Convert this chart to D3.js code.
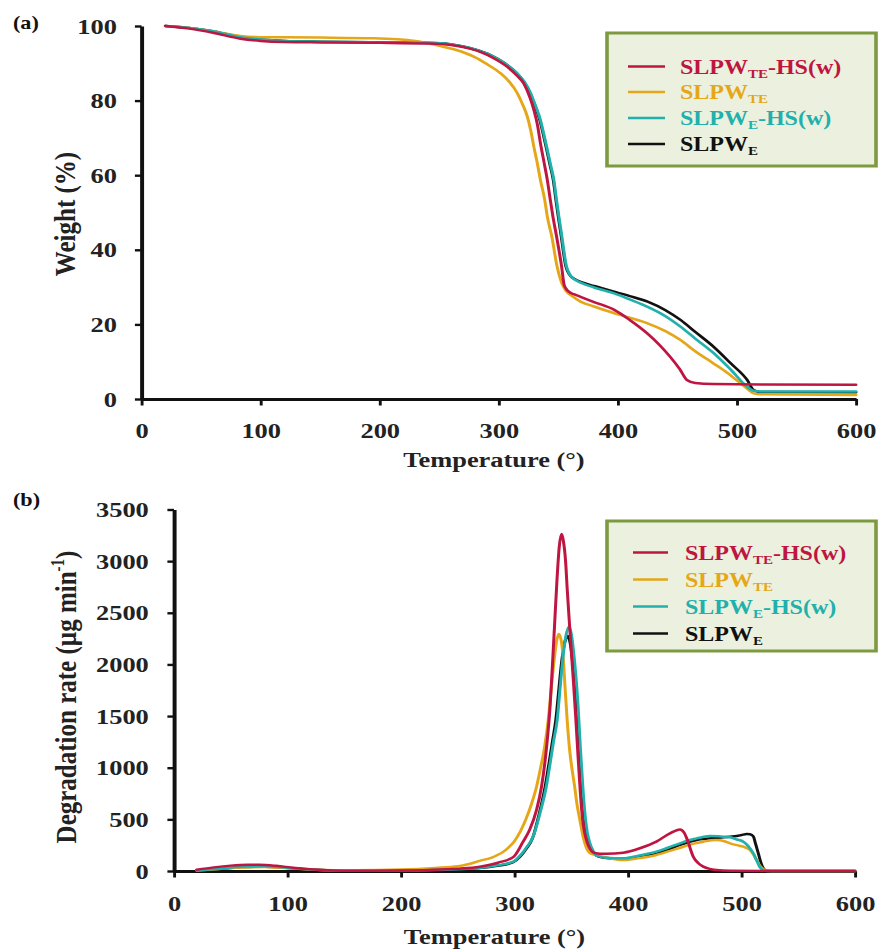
<!DOCTYPE html>
<html>
<head>
<meta charset="utf-8">
<script src="https://cdn.jsdelivr.net/npm/d3@7/dist/d3.min.js"></script>
<style>
  html, body { margin: 0; padding: 0; background: #ffffff; }
  svg { display: block; }
</style>
</head>
<body>
<svg id="fig" width="881" height="951"></svg>
<script>
// ---------- series definitions ----------
const seriesColors = ["#bf1541", "#e5a718", "#21b0ac", "#111111"];
const legendMain = ["SLPW", "SLPW", "SLPW", "SLPW"];
const legendSub  = ["TE", "TE", "E", "E"];
const legendTail = ["-HS(w)", "", "-HS(w)", ""];
const drawOrder  = [3, 1, 2, 0];

// ---------- tick values ----------
const tempTicks   = [0, 100, 200, 300, 400, 500, 600];
const weightTicks = [0, 20, 40, 60, 80, 100];
const rateTicks   = [0, 500, 1000, 1500, 2000, 2500, 3000, 3500];

// ---------- (a) TGA weight (%) vs temperature ----------
const tgaTEHS = [[20,100],[40,99.3],[60,98.2],[83,96.6],[100,96.0],[120,95.7],[150,95.6],[200,95.5],[240,95.3],
  [260,94.9],[275,94.0],[285,93.0],[295,91.5],[307,89.1],[315,86.8],[321,84.6],[326,81.0],[329.5,77.5],[332.5,73.5],
  [335,68.6],[338,63.5],[340.8,58.7],[343.3,53.4],[345.5,48.9],[348.6,43.5],[352.8,35.5],[355,30.5],[358,29.0],
  [363,28.1],[368.7,27.4],[380,26.0],[397,23.9],[410,21.2],[424.7,17.6],[435,14.5],[444,11.3],[452,8.0],[458,5.1],
  [465,4.3],[480,4.0],[520,3.9],[600,3.8]];
const tgaTE = [[20,100],[40,99.5],[60,98.6],[83,97.3],[100,97.0],[150,96.9],[195,96.7],[230,96.0],[251,94.6],
  [265,93.5],[279,91.8],[290,89.8],[301.6,87.3],[309,85.0],[315.6,82.0],[320,79.0],[324,75.7],[327,71.8],[329.5,67.6],
  [332.5,63.0],[335,58.7],[338.6,53.4],[340.8,48.9],[344.6,43.5],[349,35.5],[353,31.0],[356,29.2],[362,27.5],
  [368.7,26.1],[380,24.8],[397,23.0],[410,21.8],[425,20.3],[440,18.2],[452.6,15.8],[465,12.8],[480,9.6],[492,7.0],
  [503,4.2],[510,2.4],[514,1.5],[520,1.25],[600,1.1]];
const tgaEHS = [[20,100],[40,99.5],[60,98.6],[83,97.0],[100,96.4],[120,96.0],[150,95.8],[200,95.6],[251,95.4],
  [270,94.5],[280,93.7],[293,92.2],[305,90.0],[315.6,87.3],[322,84.8],[326.8,82.0],[331,78.5],[335,74.8],[338,70.8],
  [340.8,66.8],[343.5,62.8],[346.3,58.7],[348.5,53.4],[350.5,48.9],[352.8,44.0],[356.9,35.5],[360,33.2],[364.5,31.9],
  [368.7,31.2],[380,29.9],[397,28.3],[410,26.7],[425,24.7],[440,22.2],[452.6,19.4],[465,16.2],[480.5,12.3],[495,7.8],
  [508.6,3.3],[514,2.2],[520,2.0],[600,2.0]];
const tgaE = [[20,100],[40,99.5],[60,98.6],[83,97.0],[100,96.4],[120,96.0],[150,95.8],[200,95.6],[251,95.4],
  [270,94.5],[280,93.7],[293,92.2],[305,90.0],[315,87.3],[321.5,84.8],[326.3,82.0],[330.5,78.5],[334.5,74.8],[337.5,70.8],
  [340.3,66.8],[343,62.8],[345.8,58.7],[348,53.4],[350,48.9],[352.3,44.0],[356.4,35.5],[359.5,33.3],[364,32.1],
  [368.7,31.4],[380,30.3],[397,28.8],[410,27.6],[425,26.1],[440,23.8],[452.6,21.2],[465,18.0],[480.5,14.0],[495,9.5],
  [508.6,5.1],[514,2.4],[519,1.9],[600,1.8]];

// ---------- (b) DTG degradation rate (µg/min) vs temperature ----------
const dtgTEHS = [[20,12],[35,35],[50,52],[65,60],[75,60],[90,50],[105,32],[120,17],[135,8],[150,3],[175,2],[200,4],
  [225,10],[250,22],[269.4,42],[285.4,80],[299.4,140],[307.4,280],[313.4,400],[319.4,590],[323.8,816],[328.4,1213],
  [331.4,1600],[333.4,1990],[335.4,2400],[337.4,2812],[339.4,3136],[341.4,3262],[343,3200],[345,3000],[346.5,2720],
  [348.2,2430],[350,2140],[352,1820],[354,1480],[356,1110],[358,760],[360,500],[362,360],[364,280],[366.5,215],
  [369.3,180],[375,168],[381,166],[395.8,177],[410.5,220],[425,284],[437,365],[445.8,403],[449.5,370],
  [452,310],[457.5,139],[462,75],[466.3,42],[472,20],[478,10],[490,3],[520,1],[600,0]];
const dtgTE = [[20,5],[40,20],[60,35],[80,38],[100,28],[120,14],[140,8],[160,8],[200,15],[230,30],[250,45],[260,68],
  [270,100],[280,130],[285,155],[290,185],[295,230],[300,290],[305,380],[310,500],[315,650],[319.4,816],[323,1000],
  [326.5,1200],[329.7,1462],[332.5,1780],[335,2050],[337,2220],[339,2294],[341,2240],[343,2050],[344.7,1750],
  [346.4,1462],[348.5,1180],[350.5,1000],[353,816],[355,650],[357.6,494],[360.5,330],[363.5,223],[368,165],[372,155],
  [381,130],[396,106],[410,125],[425,155],[437,195],[448.7,235],[458,265],[466.3,284],[478,300],[485,288],[490,268],
  [496,250],[501.6,235],[507.5,203],[510.5,160],[513.4,106],[516,55],[519,20],[523,3],[530,0],[600,0]];
const dtgEHS = [[20,5],[40,22],[60,42],[80,45],[100,32],[120,15],[140,6],[160,3],[200,4],[230,10],[250,18],[269,29],
  [285,55],[298.8,90],[305,150],[310,220],[316.4,332],[322,540],[328,816],[331.5,1050],[334.5,1260],[337.6,1462],
  [340,1750],[342.5,2050],[345,2260],[348,2365],[350,2300],[352,2130],[354,1900],[356,1600],[358,1200],[360,850],
  [362,560],[364,380],[366.4,271],[369,200],[372,150],[381,128],[396,123],[410,150],[425,187],[435,225],
  [445.8,268],[453,295],[460.5,316],[466,330],[472,339],[480,336],[490,326],[496,305],[501.6,284],[506,240],[510.4,171],
  [513,110],[516.3,36],[520,5],[525,0],[600,0]];
const dtgE = [[20,5],[40,18],[60,38],[80,42],[100,30],[120,14],[140,6],[160,3],[200,4],[230,10],[250,18],[269,28],
  [285,50],[298.8,85],[305,140],[310,210],[316,320],[321,520],[327,816],[330.5,1050],[333.5,1260],[336.4,1462],
  [339,1750],[341.5,2020],[344,2200],[347,2275],[349,2210],[351,2050],[353,1830],[355,1540],[357,1150],[359,820],
  [361,560],[363,380],[365.5,271],[368,200],[372,150],[381,125],[396,115],[410,138],[425,165],[435,205],
  [445.8,252],[455,285],[463.4,307],[474,318],[484,326],[490,332],[495.8,339],[500,348],[504.6,358],[507.5,355],
  [510.4,335],[512.5,260],[514.8,171],[517,85],[519,30],[522,3],[528,0],[600,0]];

const tgaSeries = [tgaTEHS, tgaTE, tgaEHS, tgaE];
const dtgSeries = [dtgTEHS, dtgTE, dtgEHS, dtgE];

// ---------- layout ----------
const SX = 1.2;                       // figure is drawn narrow, then widened horizontally
const FONT = "'Liberation Serif','Times New Roman',serif";

const svg = d3.select("#fig");
svg.append("rect").attr("width", 881).attr("height", 951).attr("fill", "#ffffff");
const fig = svg.append("g").attr("transform", `scale(${SX},1)`);

function styleAxis(g, lineW) {
  g.select(".domain").attr("stroke", "#111").attr("stroke-width", lineW);
  g.selectAll(".tick line").attr("stroke", "#111").attr("stroke-width", 2.4);
  g.selectAll(".tick text")
    .attr("font-family", FONT).attr("font-weight", "bold")
    .attr("font-size", 22).attr("fill", "#222");
}

function panel(opts) {
  const { x, y, data, yTicks, xAxisY, yAxisX } = opts;
  const p = fig.append("g");

  // axes
  const gx = p.append("g").attr("transform", `translate(0,${xAxisY})`)
    .call(d3.axisBottom(x).tickValues(tempTicks).tickSize(6.5).tickSizeOuter(0)
      .tickPadding(opts.xPad).tickFormat(d3.format("d")));
  styleAxis(gx, 3.2);
  const gy = p.append("g").attr("transform", `translate(${yAxisX},0)`)
    .call(d3.axisLeft(y).tickValues(yTicks).tickSize(5.5).tickSizeOuter(0)
      .tickPadding(opts.yPad).tickFormat(d3.format("d")));
  styleAxis(gy, 3.3);

  // curves
  const line = d3.line().x(d => x(d[0])).y(d => y(d[1])).curve(d3.curveMonotoneX);
  drawOrder.forEach(i => {
    p.append("path").datum(data[i])
      .attr("d", line).attr("fill", "none")
      .attr("stroke", seriesColors[i]).attr("stroke-width", 2.5)
      .attr("stroke-linejoin", "round").attr("stroke-linecap", "round");
  });

  // x title
  p.append("text").attr("x", opts.xTitleX).attr("y", opts.xTitleY)
    .attr("text-anchor", "middle").attr("font-family", FONT).attr("font-weight", "bold")
    .attr("font-size", 22).attr("fill", "#222").text("Temperature (°)");

  // panel tag
  p.append("text").attr("x", 10.8).attr("y", opts.tagY)
    .attr("font-family", FONT).attr("font-weight", "bold").attr("font-size", 18.5)
    .attr("fill", "#111").text(opts.tag);

  // legend
  const lg = p.append("g");
  lg.append("rect").attr("x", opts.legend.x).attr("y", opts.legend.y)
    .attr("width", opts.legend.w).attr("height", opts.legend.h)
    .attr("fill", "#ebf1de").attr("stroke", "#7d9a40").attr("stroke-width", 3);
  opts.legend.rows.forEach((by, i) => {
    lg.append("line").attr("x1", opts.legend.lx1).attr("x2", opts.legend.lx2)
      .attr("y1", by - 7.5).attr("y2", by - 7.5)
      .attr("stroke", seriesColors[i]).attr("stroke-width", 2.3);
    const t = lg.append("text").attr("x", opts.legend.tx).attr("y", by)
      .attr("font-family", FONT).attr("font-weight", "bold").attr("font-size", 20)
      .attr("fill", seriesColors[i]);
    t.append("tspan").text(legendMain[i]);
    t.append("tspan").attr("font-size", 12.5).attr("dy", 4).text(legendSub[i]);
    if (legendTail[i]) t.append("tspan").attr("dy", -4).text(legendTail[i]);
  });
  return p;
}

// ----- panel (a) -----
const xA = d3.scaleLinear().domain([0, 600]).range([141.5 / SX, 856 / SX]);
const yA = d3.scaleLinear().domain([0, 100]).range([399, 26]);
const pa = panel({
  x: xA, y: yA, data: tgaSeries, yTicks: weightTicks,
  xAxisY: 399, yAxisX: 141.5 / SX, xPad: 17, yPad: 15,
  xTitleX: 494 / SX, xTitleY: 467, tag: "(a)", tagY: 29,
  legend: { x: 607 / SX, y: 33, w: 269 / SX, h: 133, lx1: 628 / SX, lx2: 665 / SX, tx: 680 / SX,
            rows: [74, 99.5, 125.5, 151.5] }
});
pa.append("text").attr("transform", `translate(${75 / SX},214) rotate(-90)`)
  .attr("text-anchor", "middle").attr("font-family", FONT).attr("font-weight", "bold")
  .attr("font-size", 25).attr("fill", "#222").text("Weight (%)");

// ----- panel (b) -----
const xB = d3.scaleLinear().domain([0, 600]).range([174 / SX, 855 / SX]);
const yB = d3.scaleLinear().domain([0, 3500]).range([871, 509.5]);
const pb = panel({
  x: xB, y: yB, data: dtgSeries, yTicks: rateTicks,
  xAxisY: 871, yAxisX: 174 / SX, xPad: 18, yPad: 15.5,
  xTitleX: 494.5 / SX, xTitleY: 944, tag: "(b)", tagY: 506,
  legend: { x: 607 / SX, y: 521, w: 269 / SX, h: 130, lx1: 633 / SX, lx2: 668 / SX, tx: 685 / SX,
            rows: [560, 587, 614, 641] }
});
const yt = pb.append("text").attr("transform", `translate(${76 / SX},697) rotate(-90)`)
  .attr("text-anchor", "middle").attr("font-family", FONT).attr("font-weight", "bold")
  .attr("font-size", 25).attr("fill", "#222");
yt.append("tspan").text("Degradation rate (µg min");
yt.append("tspan").attr("font-size", 15).attr("dy", -10).text("-1");
yt.append("tspan").attr("dy", 10).text(")");
</script>
</body>
</html>
